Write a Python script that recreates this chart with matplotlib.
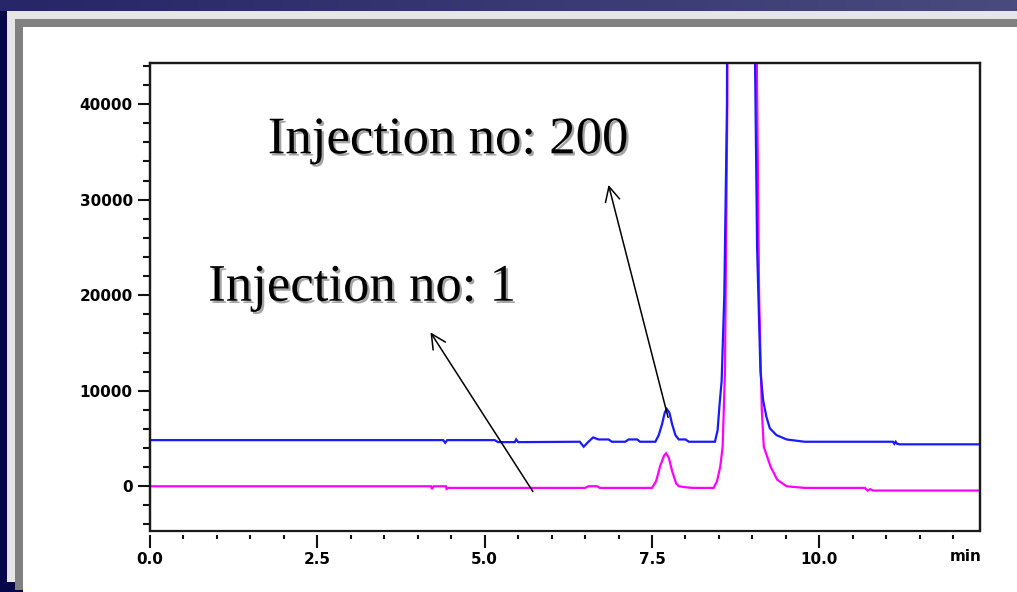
import numpy as np
import matplotlib
matplotlib.use("Agg")
import matplotlib.pyplot as plt
import matplotlib.patheffects as pe
from matplotlib.patches import Rectangle

# ---------------- data ----------------
# Injection no: 200 (blue trace)
blue_t = [0.00, 4.38, 4.41, 4.44, 5.15, 5.20, 5.45, 5.47, 5.50, 6.42, 6.48, 6.55,
          6.62, 6.70, 6.85, 6.90, 7.10, 7.15, 7.28, 7.32, 7.55, 7.60, 7.65, 7.69,
          7.72, 7.76, 7.80, 7.85, 7.90, 8.00, 8.05, 8.44, 8.48, 8.51, 8.54, 8.58,
          8.62, 8.645, 9.03, 9.04, 9.07, 9.12, 9.16, 9.21, 9.26, 9.36, 9.51, 9.78,
          11.10, 11.12, 11.14, 11.16, 11.20, 12.40]
blue_v = [4830, 4830, 4550, 4830, 4830, 4620, 4620, 4900, 4620, 4660, 4140, 4660,
          5110, 4900, 4900, 4660, 4660, 4900, 4900, 4660, 4660, 5350, 6500, 7700,
          8100, 7700, 6500, 5350, 4900, 4900, 4660, 4660, 5870, 8630, 11000, 20000,
          40000, 150000, 150000, 44000, 25000, 12000, 8980, 7240, 6070, 5350, 4900, 4660,
          4660, 4450, 4660, 4450, 4390, 4390]

# Injection no: 1 (magenta trace)
pink_t = [0.00, 4.20, 4.21, 4.24, 4.42, 4.43, 4.46, 6.50, 6.55, 6.68, 6.72, 7.50,
          7.56, 7.62, 7.68, 7.71, 7.75, 7.80, 7.86, 7.90, 8.00, 8.10, 8.42, 8.47,
          8.52, 8.555, 8.59, 8.625, 8.64, 9.05, 9.065, 9.10, 9.14, 9.17, 9.27, 9.37,
          9.51, 9.78, 10.68, 10.72, 10.76, 10.80, 12.50]
pink_v = [0, 0, -280, 0, 0, -280, -170, -170, 0, 0, -170, -170,
          500, 2070, 3200, 3460, 3000, 1600, 300, 0, -100, -170, -170, 500,
          2070, 4140, 12000, 40000, 150000, 150000, 45000, 20000, 8000, 4140, 2070, 690,
          0, -170, -170, -450, -300, -450, -450]

y_ticks = [0, 10000, 20000, 30000, 40000]
y_labels = ["0", "10000", "20000", "30000", "40000"]
x_ticks = [0.0, 2.5, 5.0, 7.5, 10.0]
x_labels = ["0.0", "2.5", "5.0", "7.5", "10.0"]
label_200 = "Injection no: 200"
label_1 = "Injection no: 1"

# ---------------- figure ----------------
W, H = 1017, 592
fig = plt.figure(figsize=(W / 100, H / 100), dpi=100)
fig.patch.set_facecolor("#06064a")

# slide-like background
bg = fig.add_axes([0, 0, 1, 1], zorder=-10)
bg.axis("off")
grad = np.linspace(0, 1, 256)[None, :]
top_cmap = matplotlib.colors.LinearSegmentedColormap.from_list("t", ["#262668", "#4a4a7e"])
bg.imshow(grad, cmap=top_cmap, extent=(0, W, 11, 0), aspect="auto", zorder=0)
bg.add_patch(Rectangle((7, 11), W - 7, 571, color="#e6e6e6", lw=0, zorder=1))
bg.add_patch(Rectangle((15, 19), W - 15, 571, color="#808080", lw=0, zorder=2))
bg.add_patch(Rectangle((23, 27), W - 23, H - 27, color="#ffffff", lw=0, zorder=3))
bg.set_xlim(0, W)
bg.set_ylim(H, 0)

# main axes
left, right, top, bottom = 150, 980, 63, 530.7
ax = fig.add_axes([left / W, 1 - bottom / H, (right - left) / W, (bottom - top) / H])
ax.set_facecolor("none")

# bottom ticks sit slightly detached below the frame
ax.spines["bottom"].set_position(("outward", 3))
ax.spines["bottom"].set_visible(False)

ax.plot(pink_t, pink_v, color="#ff00ff", lw=1.6, solid_joinstyle="miter")
ax.plot(blue_t, blue_v, color="#1a1aff", lw=1.6, solid_joinstyle="miter")

ax.set_xlim(0, 12.4)
ax.set_ylim(-4650, 44300)

tick_font = dict(family="DejaVu Sans", weight="bold", size=11)
ax.set_yticks(y_ticks)
ax.set_yticks(np.arange(-4000, 44001, 2000), minor=True)
ax.set_xticks(x_ticks)
ax.set_xticks(np.arange(0, 12.01, 0.5), minor=True)
ax.set_yticklabels(y_labels, **tick_font)
ax.set_xticklabels(x_labels, **tick_font)

ax.tick_params(axis="y", which="major", length=9, width=1.5, pad=3.5, color="#111111")
ax.tick_params(axis="y", which="minor", length=5, width=1.5, color="#111111")
ax.tick_params(axis="x", which="major", length=9.5, width=1.5, pad=3, color="#111111")
ax.tick_params(axis="x", which="minor", length=3, width=1.5, color="#111111")

for s in ["top", "right", "left"]:
    ax.spines[s].set_linewidth(1.6)
    ax.spines[s].set_color("#1a1a1a")
ax.add_patch(Rectangle((0, 0), 1, 1, transform=ax.transAxes, fill=False,
                       lw=1.6, edgecolor="#1a1a1a", clip_on=False, zorder=5))

fig.text(982 / W, 1 - 549 / H, "min", ha="right", va="top", **tick_font)

# annotations
shadow = [pe.withSimplePatchShadow(offset=(1.6, -1.6), shadow_rgbFace="#9a9a9a", alpha=0.9)]
ax.text(1.76, 34850, label_200, family="Liberation Serif", size=38, color="black",
        ha="left", va="baseline", path_effects=shadow, zorder=6)
ax.text(0.87, 19420, label_1, family="Liberation Serif", size=38, color="black",
        ha="left", va="baseline", path_effects=shadow, zorder=6)

arrow = dict(arrowstyle="->,head_length=0.7,head_width=0.35", lw=1.1, color="black",
             shrinkA=0, shrinkB=0, mutation_scale=15)
ax.annotate("", xy=(6.85, 31540), xytext=(7.74, 7210), arrowprops=arrow, zorder=6)
ax.annotate("", xy=(4.19, 16110), xytext=(5.72, -550), arrowprops=arrow, zorder=6)

fig.savefig("out.png", dpi=100, facecolor=fig.get_facecolor())
